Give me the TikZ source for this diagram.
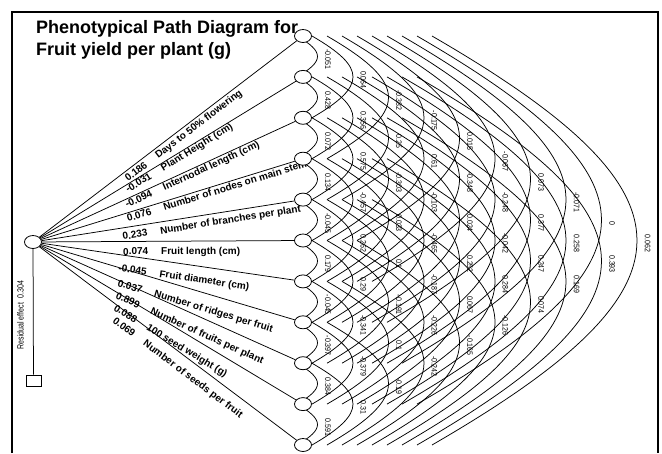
\documentclass[tikz,border=0pt]{standalone}
\usepackage{fontspec}
\setmainfont{Liberation Sans}
\usetikzlibrary{shapes.geometric}
\begin{document}
\begin{tikzpicture}[x=1pt,y=-1pt,
  varnode/.style={draw, fill=white, ellipse, minimum width=17pt, minimum height=13pt, inner sep=0pt, line width=0.8pt},
  resbox/.style={draw, fill=white, rectangle, minimum width=15pt, minimum height=11pt, inner sep=0pt, line width=0.8pt},
  arcline/.style={line width=0.75pt},
  rootline/.style={line width=0.75pt},
  effect/.style={font=\bfseries\fontsize{10}{12}\selectfont, inner sep=0pt, anchor=base west},
  corr/.style={font=\fontsize{8}{9}\selectfont, inner sep=0pt, rotate=-90},
  titletext/.style={font=\bfseries\fontsize{18}{22}\selectfont, inner sep=0pt, anchor=base west},
  restext/.style={font=\fontsize{9}{10}\selectfont, inner sep=0pt, rotate=90}
]
\useasboundingbox (0,0) rectangle (662,453);
% frame
\draw[line width=1.3pt] (12,453) -- (12,12) -- (658,12) -- (658,453);
% title
\node[titletext] (t1) at (36,33) {Phenotypical Path Diagram for};
\node[titletext] (t2) at (36,55) {Fruit yield per plant (g)};
% correlation arcs and labels
\foreach \i/\j/\cv in {
 1/2/-0.051, 2/3/0.428, 3/4/0.072, 4/5/0.134, 5/6/-0.045, 6/7/0.179, 7/8/-0.045, 8/9/-0.397, 9/10/0.384, 10/11/0.591,
 1/3/0.064, 2/4/0.356, 3/5/0.575, 4/6/-0.457, 5/7/0.262, 6/8/0.29, 7/9/-0.341, 8/10/-0.379, 9/11/0.31,
 1/4/-0.382, 2/5/0.25, 3/6/-0.303, 4/7/0.033, 5/8/0.1, 6/9/-0.191, 7/10/0.1, 8/11/-0.19,
 1/5/-0.175, 2/6/0.61, 3/7/-0.103, 4/8/-0.465, 5/9/-0.187, 6/10/-0.226, 7/11/-0.242,
 1/6/0.015, 2/7/-0.348, 3/8/0.024, 4/9/0.252, 5/10/0.067, 6/11/-0.165,
 1/7/-0.067, 2/8/-0.248, 3/9/-0.042, 4/10/0.284, 5/11/-0.126,
 1/8/0.073, 2/9/0.377, 3/10/0.247, 4/11/0.074,
 1/9/-0.071, 2/10/0.258, 3/11/0.169,
 1/10/0, 2/11/0.393,
 1/11/0.062}{
  \pgfmathsetmacro{\kk}{\j-\i}
  \pgfmathsetmacro{\yi}{36+40.9*(\i-1)}
  \pgfmathsetmacro{\yj}{36+40.9*(\j-1)}
  \pgfmathsetmacro{\ym}{(\yi+\yj)/2}
  \pgfmathsetmacro{\sx}{282+15*\kk}
  \pgfmathsetmacro{\cx}{282+42.33*\kk}
  \pgfmathsetmacro{\dy}{15.8*\kk}
  \pgfmathsetmacro{\ax}{282+35.5*\kk}
  \draw[arcline] (\sx,\yi) .. controls (\cx,\yi+\dy) and (\cx,\yj-\dy) .. (\sx,\yj);
  \node[corr] (l\i-\j) at ({\ax+10.5}, {\ym+3}) {\scalebox{0.88}[1]{\cv}};
}
% direct effect labels
\foreach \i/\bx/\by/\val/\name in {
 1/128/182/0.186/Days to 50\% flowering,
 2/128/193/-0.031/Plant Height (cm),
 3/127/208/-0.094/Internodal length (cm),
 4/128/222/0.076/Number of nodes on main stem,
 5/123/240/0.233/Number of branches per plant,
 6/123/255/0.074/Fruit length (cm),
 7/118/271/-0.045/Fruit diameter (cm),
 8/117/286/0.037/Number of ridges per fruit,
 9/115/298/0.899/Number of fruits per plant,
 10/113/310/0.088/100 seed weight (g),
 11/112/322/0.069/Number of seeds per fruit}{
  \node[effect, rotate={atan((242-(36+40.9*(\i-1)))/270)}] (e\i) at (\bx,\by) {\val\hspace{13pt}\name};
}
% variable nodes
\foreach \i in {1,...,11}{
  \node[varnode] (c\i) at (303, {36+40.9*(\i-1)}) {};
}
\node[varnode] (root) at (33,242) {};
\foreach \i in {1,...,11}{
  \draw[rootline] (root) -- (c\i);
}
% residual
\node[resbox] (res) at (33.5,380.5) {};
\draw[rootline] (root) -- (res);
\node[restext] (rt) at (20.5,315) {\scalebox{0.78}[1]{Residual effect\hspace{6pt}0.304}};
\end{tikzpicture}
\end{document}
